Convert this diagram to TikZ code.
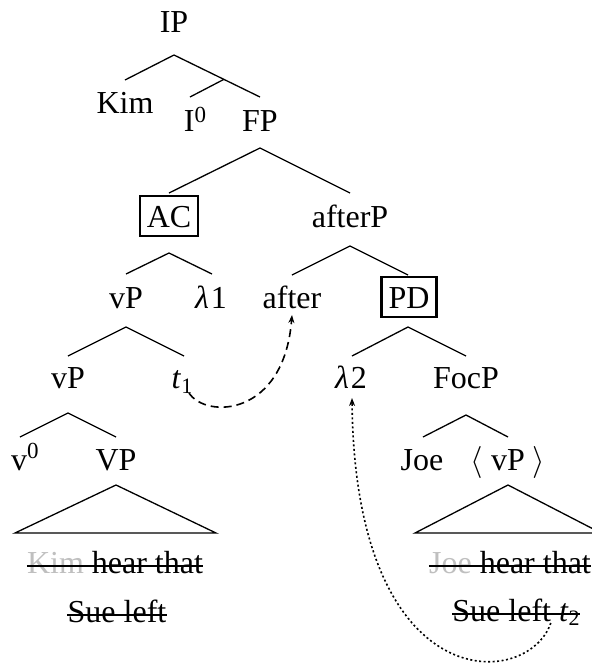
\documentclass[tikz,border=0pt]{standalone}
\usepackage{fix-cm}
\usepackage{fontspec}
\setmainfont{Liberation Serif}
\usetikzlibrary{arrows.meta,calc}
\begin{document}
\begin{tikzpicture}[x=1pt,y=-1pt,
  every node/.style={font=\fontsize{32}{38}\selectfont, inner sep=0pt, anchor=base},
  boxed/.style={draw, line width=2.3pt, text height=22pt, text depth=0pt, inner xsep=7pt, inner ysep=9pt},
  branch/.style={line width=1.3pt},
  strike/.style={line width=2.2pt},
  mv/.style={line width=1.6pt, -{Stealth[length=8pt,width=6pt]}}]
\useasboundingbox (0,0) rectangle (592,665);
% nodes
\node (IP) at (174,32) {IP};
\node (Kim) at (125,113) {Kim};
\node (I0) at (195,131) {I\raisebox{9pt}{\fontsize{23}{23}\selectfont 0}};
\node (FP) at (260,131) {FP};
\node[boxed] (AC) at (169,227) {AC};
\node (afterP) at (350,227) {afterP};
\node (vPa) at (126,308) {vP};
\node (lam1) at (211,308) {{\itshape λ}\kern2pt 1};
\node (after) at (292,308) {after};
\node[boxed] (PD) at (409,308) {PD};
\node (vPb) at (68,388) {vP};
\node (t1) at (182,388) {\textit{t}\raisebox{-5pt}{\fontsize{22}{22}\selectfont 1}};
\node (lam2) at (351,388) {{\itshape λ}\kern2pt 2};
\node (FocP) at (466,388) {FocP};
\node (v0) at (25,470) {v\raisebox{12pt}{\fontsize{23}{23}\selectfont 0}};
\node (VP) at (116,470) {VP};
\node (Joe) at (422,470) {Joe};
\node (vPc) at (508,470) {$\langle$\ vP\ $\rangle$};
\node (s1) at (115,573) {\textcolor{gray!50}{Kim} hear that};
\node (s2) at (117,622) {Sue left};
\node (s3) at (510,573) {\textcolor{gray!50}{Joe} hear that};
\node (s4) at (516,621) {Sue left \textit{t}\raisebox{-4pt}{\fontsize{22}{22}\selectfont 2}};
% branches
\draw[branch] ([yshift=-23pt]IP.base) coordinate (IPb) -- ([yshift=33pt]Kim.base);
\draw[branch] (IPb) -- ([yshift=34pt]FP.base) coordinate (FPt);
\draw[branch] ($(IPb)!0.58!(FPt)$) -- ([xshift=-5pt,yshift=34pt]I0.base);
\draw[branch] ([yshift=34pt]AC.base) -- ([yshift=-17pt]FP.base) -- ([yshift=34pt]afterP.base);
\draw[branch] ([yshift=34pt]vPa.base) -- ([yshift=-26pt]AC.base) -- ([xshift=1pt,yshift=34pt]lam1.base);
\draw[branch] ([yshift=33pt]after.base) -- ([yshift=-19pt]afterP.base) -- ([xshift=-1pt,yshift=33pt]PD.base);
\draw[branch] ([yshift=32pt]vPb.base) -- ([yshift=-19pt]vPa.base) -- ([xshift=2pt,yshift=32pt]t1.base);
\draw[branch] ([xshift=1pt,yshift=32pt]lam2.base) -- ([xshift=-1pt,yshift=-19pt]PD.base) -- ([yshift=32pt]FocP.base);
\draw[branch] ([xshift=-5pt,yshift=33pt]v0.base) -- ([yshift=-25pt]vPb.base) -- ([yshift=33pt]VP.base);
\draw[branch] ([xshift=1pt,yshift=33pt]Joe.base) -- ([yshift=-27pt]FocP.base) -- ([yshift=33pt]vPc.base);
% triangles
\draw[branch] ([yshift=-15pt]VP.base) -- ([xshift=-101pt,yshift=-63pt]VP.base) -- ([xshift=100pt,yshift=-63pt]VP.base) -- cycle;
\draw[branch] ([yshift=-15pt]vPc.base) -- ([xshift=-93pt,yshift=-63pt]vPc.base) -- ([xshift=93pt,yshift=-63pt]vPc.base) -- cycle;
% strike-outs
\draw[strike] ([yshift=7pt]s1.base west) -- ([yshift=7pt]s1.base east);
\draw[strike] ([yshift=7pt]s2.base west) -- ([yshift=7pt]s2.base east);
\draw[strike] ([yshift=7pt]s3.base west) -- ([yshift=7pt]s3.base east);
\draw[strike] ([yshift=7pt]s4.base west) -- ([yshift=7pt]s4.base east);
% movement arrows
\draw[mv, dash pattern=on 8pt off 5pt] ([xshift=7pt,yshift=-5pt]t1.base) .. controls +(17,26) and +(-8,102) .. ([yshift=-7pt]after.base);
\draw[mv, dash pattern=on 2pt off 2.5pt] ([xshift=-29pt,yshift=-2pt]s4.base east) .. controls +(-23,67) and +(3,302) .. ([xshift=1pt,yshift=-10pt]lam2.base);
\end{tikzpicture}
\end{document}
